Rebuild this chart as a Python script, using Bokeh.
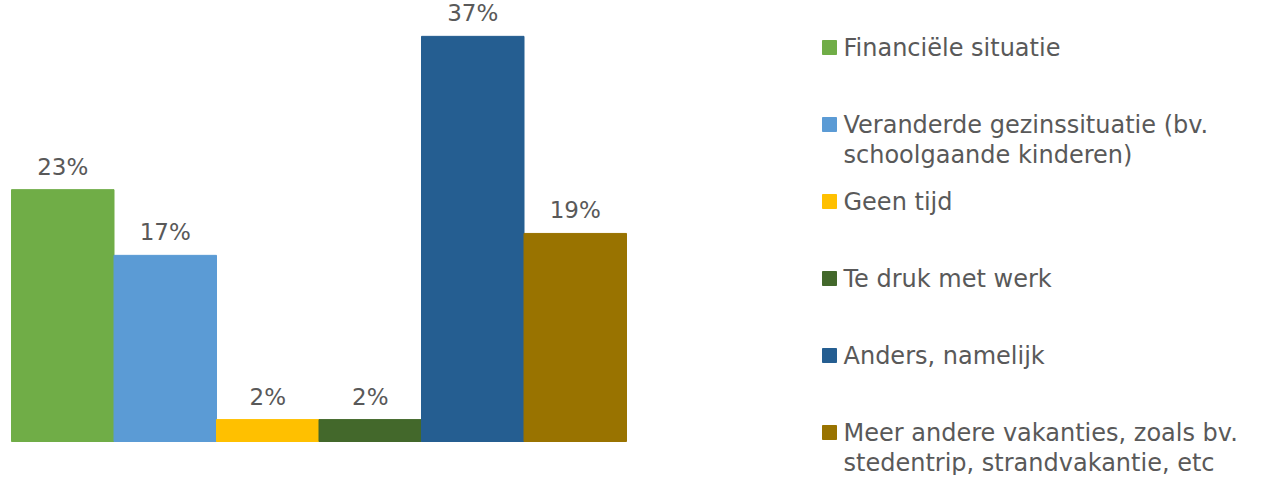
from bokeh.plotting import figure
from bokeh.models import ColumnDataSource, Range1d
from bokeh.core.properties import value
from bokeh.embed import file_html
from bokeh.resources import INLINE

categories = ["Financiële situatie",
              "Veranderde gezinssituatie (bv.\nschoolgaande kinderen)",
              "Geen tijd",
              "Te druk met werk",
              "Anders, namelijk",
              "Meer andere vakanties, zoals bv.\nstedentrip, strandvakantie, etc"]
values = [23, 17, 2, 2, 37, 19]
colors = ["#70AD47", "#5B9BD5", "#FFC000", "#43682B", "#255E91", "#997300"]
labels = [f"{v}%" for v in values]

FONT = "DejaVu Sans"
TXT = "#595959"

W, H = 1262, 475
bar_px = 102.5       # pixel width of one category
left_px = 11         # left edge of first bar in figure pixels
base_px = 441        # baseline in figure pixels from top
pct_px = 10.95       # pixels per percent

n = len(values)
xs = list(range(n))
src = ColumnDataSource(dict(x=xs, top=values, color=colors, label=labels))

x0 = -0.5 - left_px / bar_px
y0 = -(H - base_px) / pct_px
p = figure(width=W, height=H, output_backend="svg", toolbar_location=None,
           x_range=Range1d(x0, x0 + W / bar_px), y_range=Range1d(y0, y0 + H / pct_px),
           min_border=0)
p.extra_x_ranges = {"lx": Range1d(0, W)}
p.extra_y_ranges = {"ly": Range1d(H, 0)}
p.vbar(x="x", top="top", bottom=0, width=1.0, color="color", source=src)
p.text(x="x", y="top", text="label", source=src, text_align="center", text_baseline="bottom",
       y_offset=-10, text_font=value(FONT), text_font_size="23px", text_color=TXT)
p.axis.visible = False
p.grid.visible = False
p.outline_line_color = None

# legend drawn in pixel-like ranges
step = 77
ly0 = 47
sq_x, sq_y, sq_c = [], [], []
tx, ty, tt = [], [], []
for i, (cat, c) in enumerate(zip(categories, colors)):
    yc = ly0 + i * step
    sq_x.append(829); sq_y.append(yc); sq_c.append(c)
    for j, line in enumerate(cat.split("\n")):
        tx.append(843); ty.append(yc + j * 30); tt.append(line)
p.rect(x=sq_x, y=sq_y, width=14, height=14, color=sq_c, x_range_name="lx", y_range_name="ly")
p.text(x=tx, y=ty, text=tt, text_align="left", text_baseline="middle",
       text_font=value(FONT), text_font_size="24px", text_color=TXT,
       x_range_name="lx", y_range_name="ly")

open("out.html", "w").write(file_html(p, INLINE))
